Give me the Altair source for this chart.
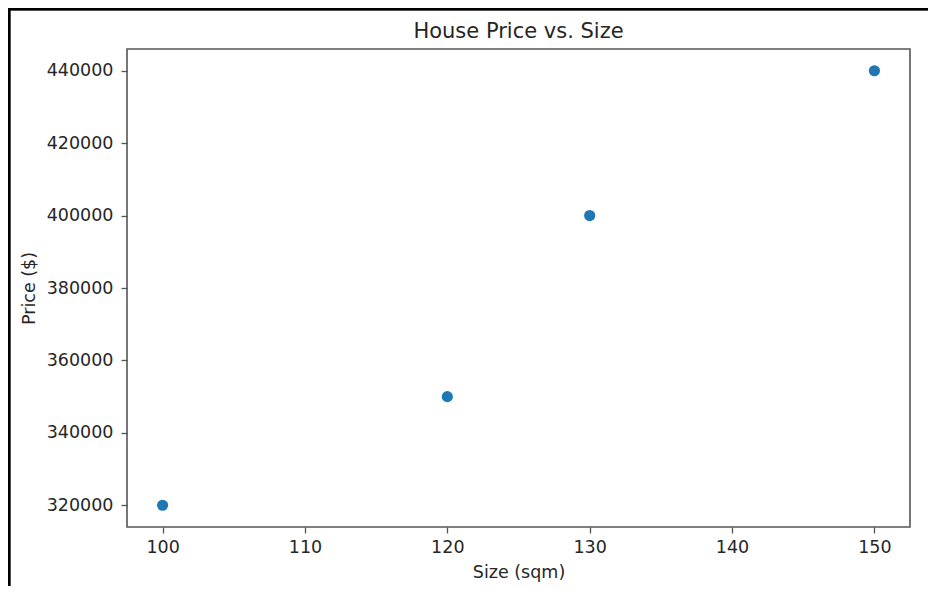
import altair as alt
import pandas as pd

sizes = [100, 120, 130, 150]
prices = [320000, 350000, 400000, 440000]
x_ticks = [100, 110, 120, 130, 140, 150]
y_ticks = [320000, 340000, 360000, 380000, 400000, 420000, 440000]
chart_title = ["House Price vs. Size"]

df = pd.DataFrame({"size": sizes, "price": prices})
title_df = pd.DataFrame({"t": chart_title})

W, H = 783, 478
FONT = "DejaVu Sans"
SPINE = "#555555"
TXT = "#262626"

points = alt.Chart(df).mark_circle(size=125, color="#1f77b4", opacity=1).encode(
    x=alt.X("size:Q", title="Size (sqm)",
            scale=alt.Scale(domain=[97.5, 152.5], nice=False, zero=False),
            axis=alt.Axis(values=x_ticks, format="d", grid=False, domain=False,
                          tickColor=SPINE, tickSize=6, tickWidth=1.3, labelPadding=5,
                          labelFont=FONT, labelFontSize=17.5, labelColor=TXT,
                          titleFont=FONT, titleFontSize=17.5, titleFontWeight="normal",
                          titleColor=TXT, titlePadding=8)),
    y=alt.Y("price:Q", title="Price ($)",
            scale=alt.Scale(domain=[314000, 446000], nice=False, zero=False),
            axis=alt.Axis(values=y_ticks, format="d", grid=False, domain=False,
                          tickColor=SPINE, tickSize=6, tickWidth=1.3, labelPadding=8,
                          labelFont=FONT, labelFontSize=17.5, labelColor=TXT,
                          titleFont=FONT, titleFontSize=17.5, titleFontWeight="normal",
                          titleColor=TXT, titlePadding=8)),
)

title_mark = alt.Chart(title_df).mark_text(
    font=FONT, fontSize=21, color=TXT, align="center", baseline="alphabetic"
).encode(text="t:N", x=alt.value(W / 2), y=alt.value(-11))

top_border = alt.Chart(df).mark_rule(color="black", strokeWidth=2.5).encode(
    x=alt.value(-120), x2=alt.value(W + 40), y=alt.value(-40)
)
left_border = alt.Chart(df).mark_rule(color="black", strokeWidth=2.5).encode(
    x=alt.value(-118), y=alt.value(-41), y2=alt.value(H + 70)
)

chart = alt.layer(points, title_mark, top_border, left_border).properties(
    width=W, height=H,
    autosize=alt.AutoSizeParams(type="none"),
    padding={"left": 119, "top": 41, "right": 18, "bottom": 59},
).configure_view(stroke=SPINE, strokeWidth=1.6)

chart.save("out.html", embed_options={"renderer": "svg", "actions": False})
